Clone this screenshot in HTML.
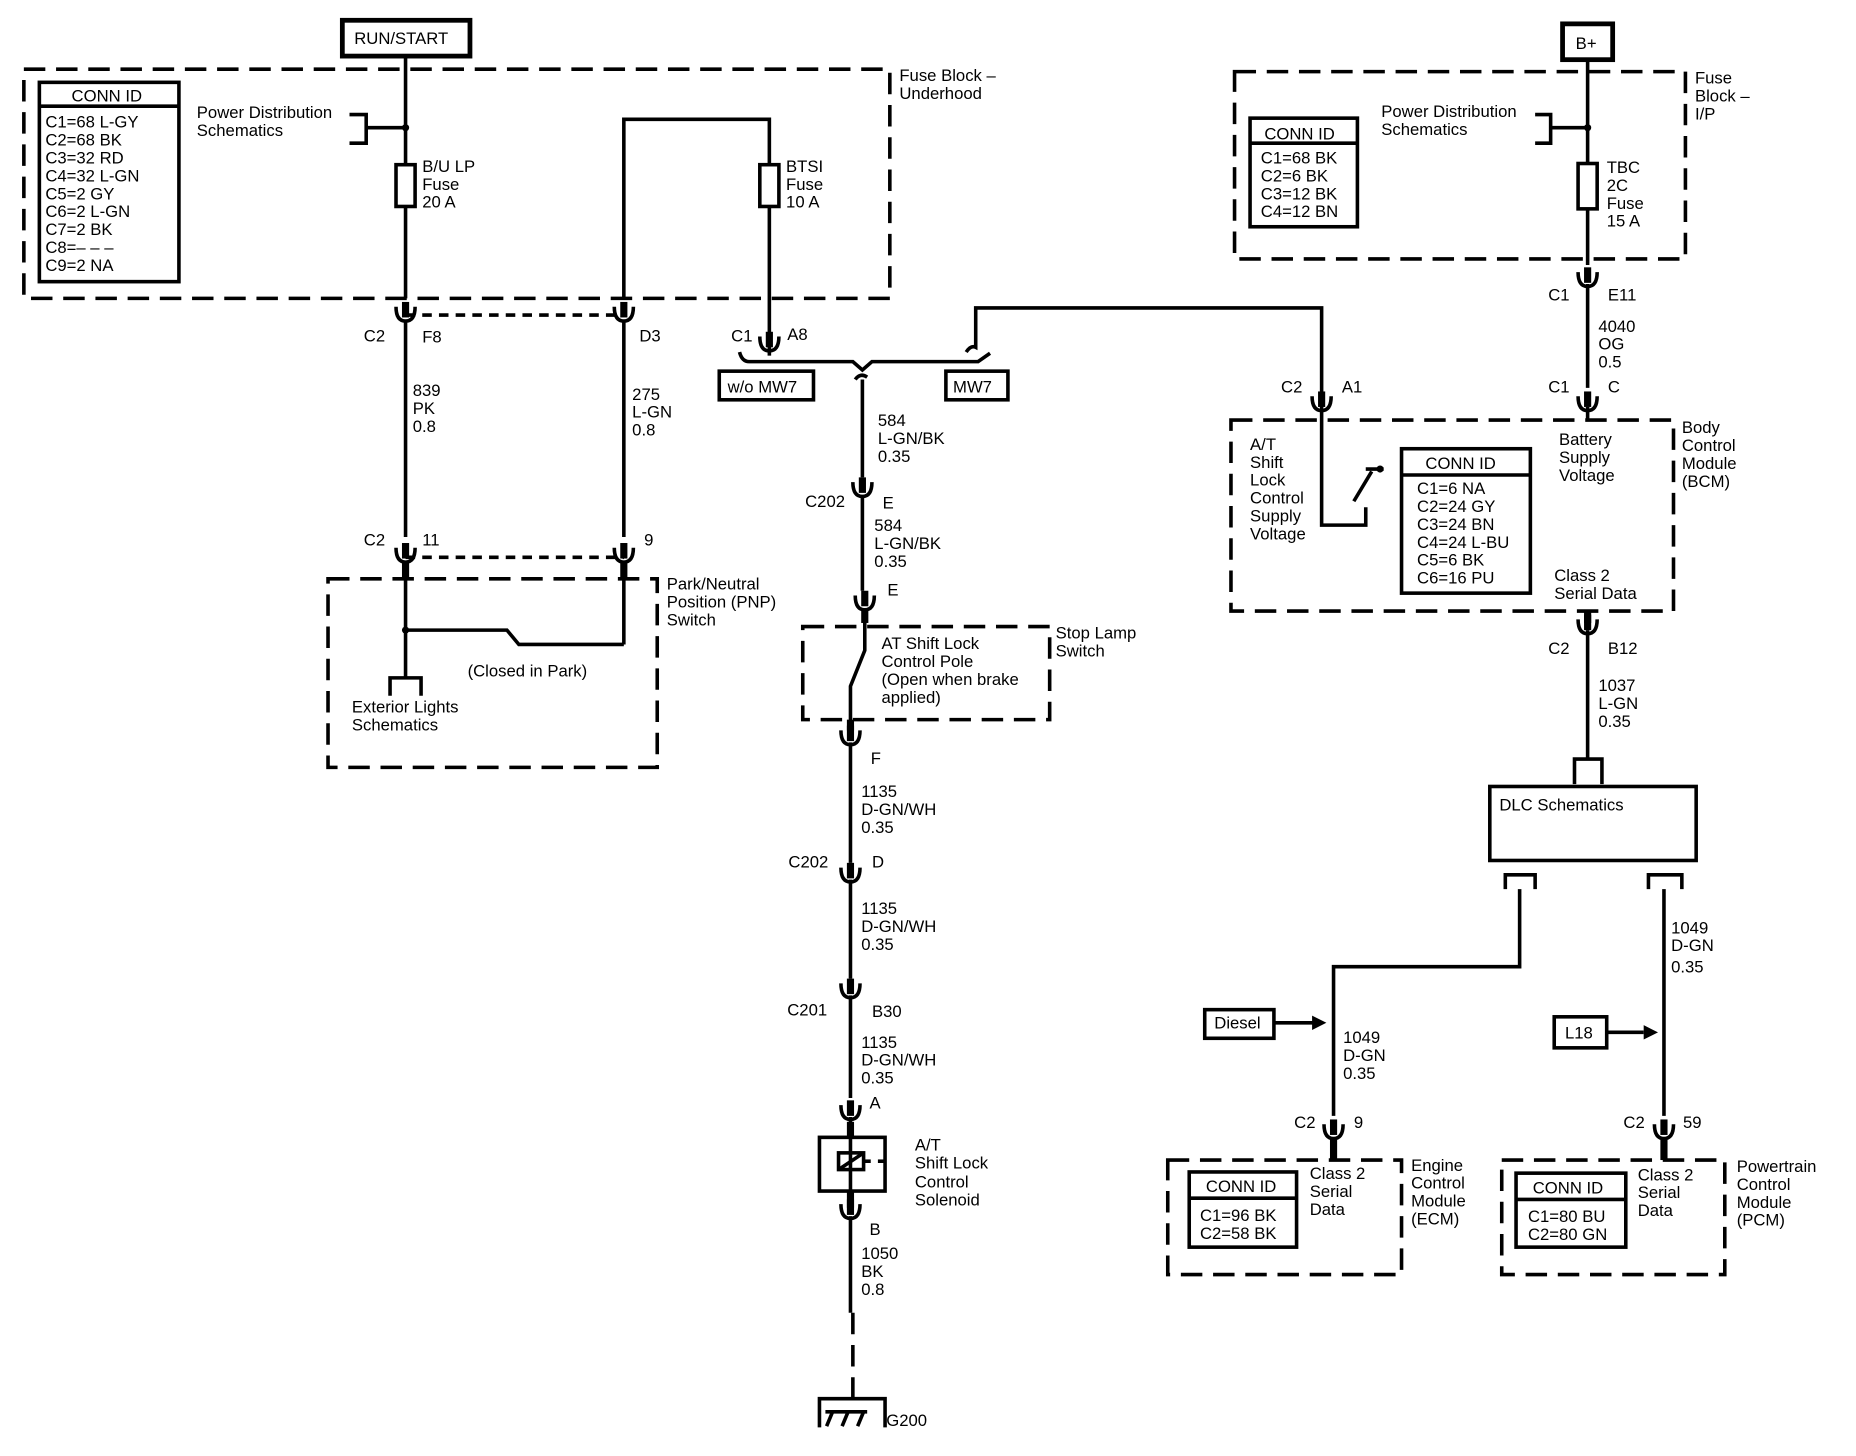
<!DOCTYPE html>
<html><head><meta charset="utf-8"><style>
html,body{margin:0;padding:0;background:#fff;}
svg{display:block;}
text{font-family:"Liberation Sans",Arial,sans-serif;font-size:14px;fill:#000;}
</style></head><body>
<svg width="1856" height="1456" viewBox="0 0 1556 1220" preserveAspectRatio="none" xmlns="http://www.w3.org/2000/svg">
<defs>
<g id="cn"><path d="M-8,-8 Q-8,4 0,4 Q8,4 8,-8" fill="none" stroke="#000" stroke-width="3"/><line x1="0" y1="-12" x2="0" y2="1" stroke="#000" stroke-width="6"/></g>
</defs>
<g fill="none" stroke="#000" stroke-width="3">
<!-- Dashed boxes -->
<g stroke-dasharray="18,9">
<rect x="20" y="58" width="726" height="192"/>
<rect x="275" y="485" width="276" height="158"/>
<rect x="673" y="525" width="207" height="78"/>
<rect x="1035" y="60" width="378" height="157"/>
<rect x="1032" y="352" width="371" height="160"/>
<rect x="979" y="972" width="196" height="96"/>
<rect x="1259" y="972" width="187" height="96"/>
<line x1="340" y1="264" x2="523" y2="264" stroke-dasharray="8,6"/>
<line x1="340" y1="467" x2="523" y2="467" stroke-dasharray="8,6"/>
<line x1="715" y1="1100" x2="715" y2="1172"/>
</g>
<!-- solid boxes -->
<rect x="287" y="17" width="107" height="30" stroke-width="4"/>
<rect x="33" y="69" width="117" height="167"/><line x1="33" y1="89" x2="150" y2="89"/>
<rect x="1048" y="99" width="90" height="91"/><line x1="1048" y1="120" x2="1138" y2="120"/>
<rect x="1310" y="20" width="42" height="30" stroke-width="4"/>
<rect x="1175" y="376" width="108" height="121"/><line x1="1175" y1="398" x2="1283" y2="398"/>
<rect x="603" y="311" width="79" height="24"/>
<rect x="793" y="311" width="52" height="24"/>
<rect x="1249" y="659" width="173" height="62"/>
<rect x="997" y="982" width="90" height="63"/><line x1="997" y1="1004" x2="1087" y2="1004"/>
<rect x="1271" y="983" width="92" height="62"/><line x1="1271" y1="1005" x2="1363" y2="1005"/>
<rect x="1010" y="846" width="58" height="24"/>
<rect x="1303" y="852" width="44" height="26"/>
<rect x="687" y="953" width="55" height="45"/>
<!-- left wires -->
<line x1="340" y1="47" x2="340" y2="250"/>
<polyline points="293,96 307,96 307,120 293,120"/><line x1="307" y1="107" x2="340" y2="107"/>
<rect x="332" y="138" width="16" height="35" fill="#fff"/>
<line x1="340" y1="270" x2="340" y2="450"/>
<line x1="523" y1="270" x2="523" y2="450"/>
<polyline points="523,250 523,100 645,100 645,280"/>
<rect x="637" y="138" width="16" height="35" fill="#fff"/>
<line x1="340" y1="470" x2="340" y2="568"/>
<line x1="523" y1="470" x2="523" y2="540"/>
<polyline points="340,528 425,528 435,540 523,540"/>
<polyline points="327,583 327,568 353,568 353,583"/>
<!-- center wires -->
<path d="M620,295 Q622,303 628,303 L715,303 L723,310 L731,303 L820,303 L830,296"/>
<path d="M810,295 Q814,289 818,291 L818,258 L1108,258 L1108,330"/>
<line x1="645" y1="288" x2="645" y2="298"/>
<path d="M717,318 Q721,312 727,316"/>
<line x1="723" y1="318" x2="723" y2="400"/>
<line x1="723" y1="416" x2="723" y2="495"/>
<polyline points="725,510 725,545 713,575 713,606"/>
<line x1="713" y1="622" x2="713" y2="723"/>
<line x1="713" y1="737" x2="713" y2="820"/>
<line x1="713" y1="834" x2="713" y2="920"/>
<line x1="713" y1="936" x2="713" y2="1005"/>
<rect x="703" y="966" width="21" height="14"/><line x1="703" y1="980" x2="724" y2="966"/>
<line x1="724" y1="973" x2="730" y2="973"/><line x1="736" y1="973" x2="742" y2="973"/>
<line x1="713" y1="1019" x2="713" y2="1100"/>
<polyline points="687,1196 687,1172 742,1172 742,1196"/>
<line x1="693" y1="1195" x2="698" y2="1183"/><line x1="706" y1="1195" x2="711" y2="1183"/><line x1="719" y1="1195" x2="724" y2="1183"/><line x1="692" y1="1183" x2="727" y2="1183"/>
<!-- BCM switch -->
<polyline points="1108,340 1108,440 1145,440 1145,425"/>
<line x1="1135" y1="420" x2="1150" y2="395"/><line x1="1145" y1="393" x2="1160" y2="393"/>
<!-- right wires -->
<line x1="1331" y1="50" x2="1331" y2="222"/>
<polyline points="1287,96 1300,96 1300,120 1287,120"/><line x1="1300" y1="107" x2="1331" y2="107"/>
<rect x="1323" y="137" width="16" height="38" fill="#fff"/>
<line x1="1331" y1="238" x2="1331" y2="325"/>
<line x1="1331" y1="341" x2="1331" y2="352"/>
<line x1="1331" y1="528" x2="1331" y2="636"/>
<polyline points="1320,657 1320,636 1343,636 1343,657"/>
<polyline points="1262,745 1262,733 1287,733 1287,745"/>
<polyline points="1382,745 1382,733 1410,733 1410,745"/>
<polyline points="1274,745 1274,810 1118,810 1118,935"/>
<line x1="1395" y1="745" x2="1395" y2="935"/>
<line x1="1068" y1="857" x2="1102" y2="857"/><line x1="1347" y1="865" x2="1378" y2="865"/>
</g>
<circle cx="340" cy="107" r="3"/><circle cx="1331" cy="107" r="3"/><circle cx="340" cy="528" r="3"/><circle cx="1157" cy="393" r="3"/>
<polygon points="1112,857 1100,851 1100,863"/><polygon points="1390,865 1378,859 1378,871"/>
<!-- connectors -->
<use href="#cn" x="340" y="265"/><use href="#cn" x="523" y="265"/><use href="#cn" x="645" y="290"/>
<use href="#cn" x="340" y="467"/><use href="#cn" x="523" y="467"/>
<use href="#cn" x="723" y="412"/><use href="#cn" x="725" y="507"/>
<use href="#cn" x="713" y="620"/><use href="#cn" x="713" y="735"/><use href="#cn" x="713" y="832"/><use href="#cn" x="713" y="934"/><use href="#cn" x="713" y="1017"/>
<use href="#cn" x="1108" y="340"/><use href="#cn" x="1331" y="236"/><use href="#cn" x="1331" y="340"/><use href="#cn" x="1331" y="527"/>
<use href="#cn" x="1118" y="950"/><use href="#cn" x="1395" y="950"/>
<line x1="340" y1="470" x2="340" y2="485" stroke="#000" stroke-width="6"/><line x1="523" y1="470" x2="523" y2="485" stroke="#000" stroke-width="6"/>
<line x1="725" y1="510" x2="725" y2="522" stroke="#000" stroke-width="6"/><line x1="713" y1="603" x2="713" y2="612" stroke="#000" stroke-width="6"/>
<line x1="713" y1="940" x2="713" y2="953" stroke="#000" stroke-width="6"/><line x1="713" y1="998" x2="713" y2="1012" stroke="#000" stroke-width="6"/>
<line x1="1118" y1="953" x2="1118" y2="972" stroke="#000" stroke-width="6"/><line x1="1395" y1="953" x2="1395" y2="972" stroke="#000" stroke-width="6"/>
<line x1="1331" y1="512" x2="1331" y2="522" stroke="#000" stroke-width="6"/>
<!-- text -->
<text x="297" y="37">RUN/START</text>
<text x="1321" y="41">B+</text>
<text x="60" y="85">CONN ID</text>
<text x="38" y="107">C1=68 L-GY</text><text x="38" y="122">C2=68 BK</text><text x="38" y="137">C3=32 RD</text><text x="38" y="152">C4=32 L-GN</text><text x="38" y="167">C5=2 GY</text><text x="38" y="182">C6=2 L-GN</text><text x="38" y="197">C7=2 BK</text><text x="38" y="212">C8=– – –</text><text x="38" y="227">C9=2 NA</text>
<text x="165" y="99">Power Distribution</text><text x="165" y="114">Schematics</text>
<text x="354" y="144">B/U LP</text><text x="354" y="159">Fuse</text><text x="354" y="174">20 A</text>
<text x="659" y="144">BTSI</text><text x="659" y="159">Fuse</text><text x="659" y="174">10 A</text>
<text x="754" y="68">Fuse Block –</text><text x="754" y="83">Underhood</text>
<text x="305" y="286">C2</text><text x="354" y="287">F8</text><text x="536" y="286">D3</text>
<text x="613" y="286">C1</text><text x="660" y="285">A8</text>
<text x="610" y="329">w/o MW7</text><text x="799" y="329">MW7</text>
<text x="346" y="332">839</text><text x="346" y="347">PK</text><text x="346" y="362">0.8</text>
<text x="530" y="335">275</text><text x="530" y="350">L-GN</text><text x="530" y="365">0.8</text>
<text x="305" y="457">C2</text><text x="354" y="457">11</text><text x="540" y="457">9</text>
<text x="559" y="494">Park/Neutral</text><text x="559" y="509">Position (PNP)</text><text x="559" y="524">Switch</text>
<text x="392" y="567">(Closed in Park)</text>
<text x="295" y="597">Exterior Lights</text><text x="295" y="612">Schematics</text>
<text x="736" y="357">584</text><text x="736" y="372">L-GN/BK</text><text x="736" y="387">0.35</text>
<text x="675" y="425">C202</text><text x="740" y="426">E</text>
<text x="733" y="445">584</text><text x="733" y="460">L-GN/BK</text><text x="733" y="475">0.35</text>
<text x="744" y="499">E</text>
<text x="739" y="544">AT Shift Lock</text><text x="739" y="559">Control Pole</text><text x="739" y="574">(Open when brake</text><text x="739" y="589">applied)</text>
<text x="885" y="535">Stop Lamp</text><text x="885" y="550">Switch</text>
<text x="730" y="640">F</text>
<text x="722" y="668">1135</text><text x="722" y="683">D-GN/WH</text><text x="722" y="698">0.35</text>
<text x="661" y="727">C202</text><text x="731" y="727">D</text>
<text x="722" y="766">1135</text><text x="722" y="781">D-GN/WH</text><text x="722" y="796">0.35</text>
<text x="660" y="851">C201</text><text x="731" y="852">B30</text>
<text x="722" y="878">1135</text><text x="722" y="893">D-GN/WH</text><text x="722" y="908">0.35</text>
<text x="729" y="929">A</text>
<text x="767" y="964">A/T</text><text x="767" y="979">Shift Lock</text><text x="767" y="995">Control</text><text x="767" y="1010">Solenoid</text>
<text x="729" y="1035">B</text>
<text x="722" y="1055">1050</text><text x="722" y="1070">BK</text><text x="722" y="1085">0.8</text>
<text x="743" y="1195">G200</text>
<text x="1158" y="98">Power Distribution</text><text x="1158" y="113">Schematics</text>
<text x="1060" y="117">CONN ID</text>
<text x="1057" y="137">C1=68 BK</text><text x="1057" y="152">C2=6 BK</text><text x="1057" y="167">C3=12 BK</text><text x="1057" y="182">C4=12 BN</text>
<text x="1347" y="145">TBC</text><text x="1347" y="160">2C</text><text x="1347" y="175">Fuse</text><text x="1347" y="190">15 A</text>
<text x="1421" y="70">Fuse</text><text x="1421" y="85">Block –</text><text x="1421" y="100">I/P</text>
<text x="1298" y="252">C1</text><text x="1348" y="252">E11</text>
<text x="1340" y="278">4040</text><text x="1340" y="293">OG</text><text x="1340" y="308">0.5</text>
<text x="1298" y="329">C1</text><text x="1348" y="329">C</text>
<text x="1074" y="329">C2</text><text x="1125" y="329">A1</text>
<text x="1048" y="377">A/T</text><text x="1048" y="392">Shift</text><text x="1048" y="407">Lock</text><text x="1048" y="422">Control</text><text x="1048" y="437">Supply</text><text x="1048" y="452">Voltage</text>
<text x="1195" y="393">CONN ID</text>
<text x="1188" y="414">C1=6 NA</text><text x="1188" y="429">C2=24 GY</text><text x="1188" y="444">C3=24 BN</text><text x="1188" y="459">C4=24 L-BU</text><text x="1188" y="474">C5=6 BK</text><text x="1188" y="489">C6=16 PU</text>
<text x="1307" y="373">Battery</text><text x="1307" y="388">Supply</text><text x="1307" y="403">Voltage</text>
<text x="1303" y="487">Class 2</text><text x="1303" y="502">Serial Data</text>
<text x="1410" y="363">Body</text><text x="1410" y="378">Control</text><text x="1410" y="393">Module</text><text x="1410" y="408">(BCM)</text>
<text x="1298" y="548">C2</text><text x="1348" y="548">B12</text>
<text x="1340" y="579">1037</text><text x="1340" y="594">L-GN</text><text x="1340" y="609">0.35</text>
<text x="1257" y="679">DLC Schematics</text>
<text x="1401" y="782">1049</text><text x="1401" y="797">D-GN</text><text x="1401" y="815">0.35</text>
<text x="1018" y="862">Diesel</text><text x="1312" y="870">L18</text>
<text x="1126" y="874">1049</text><text x="1126" y="889">D-GN</text><text x="1126" y="904">0.35</text>
<text x="1085" y="945">C2</text><text x="1135" y="945">9</text>
<text x="1361" y="945">C2</text><text x="1411" y="945">59</text>
<text x="1098" y="988">Class 2</text><text x="1098" y="1003">Serial</text><text x="1098" y="1018">Data</text>
<text x="1183" y="981">Engine</text><text x="1183" y="996">Control</text><text x="1183" y="1011">Module</text><text x="1183" y="1026">(ECM)</text>
<text x="1011" y="999">CONN ID</text><text x="1006" y="1023">C1=96 BK</text><text x="1006" y="1038">C2=58 BK</text>
<text x="1373" y="989">Class 2</text><text x="1373" y="1004">Serial</text><text x="1373" y="1019">Data</text>
<text x="1456" y="982">Powertrain</text><text x="1456" y="997">Control</text><text x="1456" y="1012">Module</text><text x="1456" y="1027">(PCM)</text>
<text x="1285" y="1000">CONN ID</text><text x="1281" y="1024">C1=80 BU</text><text x="1281" y="1039">C2=80 GN</text>
</svg>
</body></html>
